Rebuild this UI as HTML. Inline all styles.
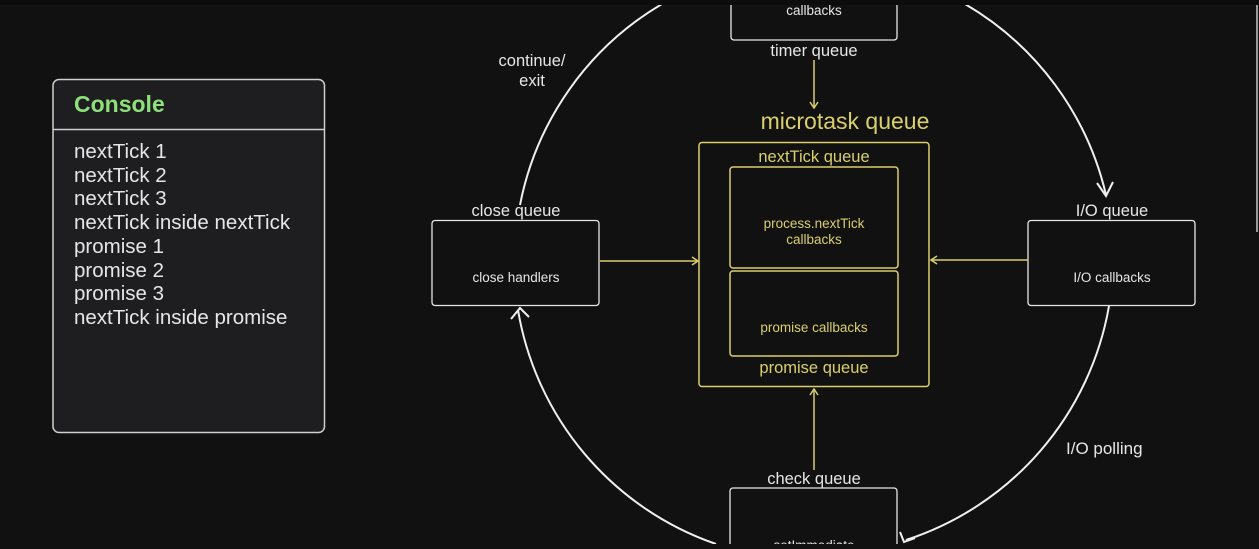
<!DOCTYPE html>
<html><head><meta charset="utf-8"><style>
html,body{margin:0;padding:0;background:#111;}
body{width:1259px;height:544px;overflow:hidden;position:relative;font-family:"Liberation Sans",sans-serif;}
svg text{font-family:"Liberation Sans",sans-serif;}
</style></head><body>
<svg width="1259" height="544" viewBox="0 0 1259 544" xmlns="http://www.w3.org/2000/svg">
<rect width="1259" height="544" fill="#111"/>
<!-- console -->
<rect x="53" y="79.5" width="271.5" height="353" rx="6" fill="#1e1e21" stroke="#cfcfcf" stroke-width="1.5"/>
<line x1="53" y1="129.5" x2="324.5" y2="129.5" stroke="#cfcfcf" stroke-width="1.5"/>
<text x="74" y="112" fill="#8ee07a" font-size="23" font-weight="bold">Console</text>
<g fill="#e6e6e6" font-size="20.5">
<text x="74" y="158">nextTick 1</text>
<text x="74" y="182">nextTick 2</text>
<text x="74" y="205">nextTick 3</text>
<text x="74" y="229">nextTick inside nextTick</text>
<text x="74" y="253">promise 1</text>
<text x="74" y="277">promise 2</text>
<text x="74" y="300">promise 3</text>
<text x="74" y="324">nextTick inside promise</text>
</g>
<!-- arcs -->
<g fill="none" stroke="#f0f0f0" stroke-width="2">
<path d="M662,4 A300,300 0 0 0 520,205"/>
<path d="M965,4 A300,300 0 0 1 1106,195"/>
<path d="M1109,306 A300,300 0 0 1 906,540"/>
<path d="M716,544 A300,300 0 0 1 518,310"/>
<polyline points="1097,183 1106,196 1113,182"/>
<polyline points="511,319 520,308 529,317"/>
<polyline points="900,532 904,542 915,538"/>
</g>
<rect x="0" y="0" width="1259" height="5" fill="#0c0c0c"/>
<line x1="1257" y1="0" x2="1257" y2="232" stroke="#999" stroke-width="2"/>
<!-- boxes white -->
<g fill="#111" stroke="#e6e6e6" stroke-width="1.3">
<rect x="731" y="-10" width="166" height="50" rx="3"/>
<rect x="432" y="220.5" width="167" height="85" rx="3"/>
<rect x="1028" y="220.5" width="167" height="85" rx="3"/>
<rect x="730" y="488" width="167" height="80" rx="3"/>
</g>
<rect x="0" y="0" width="1259" height="5" fill="#0c0c0c"/>
<g fill="#e6e6e6" font-size="16.5" text-anchor="middle">
<text x="814" y="56">timer queue</text>
<text x="516" y="216">close queue</text>
<text x="1112" y="216">I/O queue</text>
<text x="814" y="484">check queue</text>
<text x="532" y="66">continue/</text>
<text x="532" y="86">exit</text>
</g>
<text x="1066" y="454" fill="#e6e6e6" font-size="17">I/O polling</text>
<g fill="#e6e6e6" font-size="13.5" text-anchor="middle">
<text x="814" y="15">callbacks</text>
<text x="516" y="282">close handlers</text>
<text x="1112" y="282">I/O callbacks</text>
<text x="814" y="550">setImmediate</text>
</g>
<!-- yellow -->
<g fill="none" stroke="#d9cf6b" stroke-width="1.5">
<rect x="699" y="142.5" width="230" height="244" rx="3"/>
<rect x="730" y="167" width="168" height="101" rx="3"/>
<rect x="730" y="271" width="168" height="85" rx="3"/>
<line x1="814" y1="60" x2="814" y2="107"/>
<polyline points="810,102 814,108 818,102"/>
<line x1="600" y1="261" x2="697" y2="261"/>
<polyline points="692,257 698,261 692,265"/>
<line x1="1028" y1="260" x2="932" y2="260"/>
<polyline points="937,256 931,260 937,264"/>
<line x1="814" y1="470" x2="814" y2="390"/>
<polyline points="810,395 814,389 818,395"/>
</g>
<g fill="#d9cf6b" text-anchor="middle">
<text x="845" y="129" font-size="23">microtask queue</text>
<text x="814" y="162" font-size="16.5">nextTick queue</text>
<text x="814" y="373" font-size="16.5">promise queue</text>
<text x="814" y="228" font-size="13.5">process.nextTick</text>
<text x="814" y="244" font-size="13.5">callbacks</text>
<text x="814" y="332" font-size="13.5">promise callbacks</text>
</g>
</svg>
</body></html>
